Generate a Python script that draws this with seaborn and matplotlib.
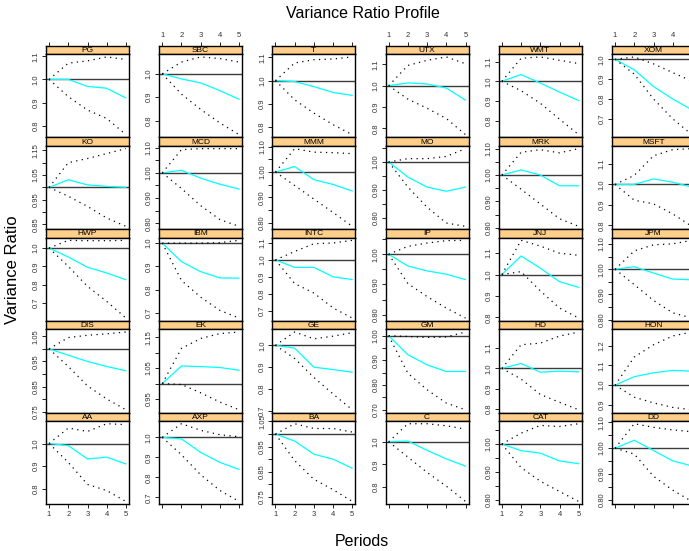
import numpy as np
import pandas as pd
import matplotlib
matplotlib.use("Agg")
import matplotlib.pyplot as plt
import seaborn as sns

# Stocks in panel order (left to right, top to bottom)
stocks = ["PG", "SBC", "T", "UTX", "WMT", "XOM",
          "KO", "MCD", "MMM", "MO", "MRK", "MSFT",
          "HWP", "IBM", "INTC", "IP", "JNJ", "JPM",
          "DIS", "EK", "GE", "GM", "HD", "HON",
          "AA", "AXP", "BA", "C", "CAT", "DD"]
periods = [1, 2, 3, 4, 5]

# Variance ratio per holding period
ratio = {
    "PG": [1, 1.000, 0.970, 0.962, 0.920],
    "SBC": [1, 0.978, 0.961, 0.928, 0.891],
    "T": [1, 0.996, 0.974, 0.949, 0.936],
    "UTX": [1, 1.013, 1.008, 0.989, 0.932],
    "WMT": [1, 1.034, 0.991, 0.945, 0.902],
    "XOM": [1, 0.947, 0.863, 0.800, 0.745],
    "KO": [1, 1.031, 1.010, 1.004, 1.000],
    "MCD": [1, 1.010, 0.979, 0.955, 0.936],
    "MMM": [1, 1.022, 0.970, 0.951, 0.925],
    "MO": [1, 0.946, 0.910, 0.895, 0.910],
    "MRK": [1, 1.019, 1.000, 0.959, 0.959],
    "MSFT": [1, 1.000, 1.027, 1.011, 0.987],
    "HWP": [1, 0.951, 0.895, 0.864, 0.827],
    "IBM": [1, 0.920, 0.877, 0.850, 0.849],
    "INTC": [1, 0.956, 0.956, 0.900, 0.884],
    "IP": [1, 0.961, 0.945, 0.934, 0.916],
    "JNJ": [1, 1.087, 1.030, 0.967, 0.940],
    "JPM": [1, 1.010, 0.985, 0.961, 0.958],
    "DIS": [1, 0.975, 0.950, 0.930, 0.913],
    "EK": [1, 1.057, 1.055, 1.052, 1.043],
    "GE": [1, 0.987, 0.900, 0.889, 0.877],
    "GM": [1, 0.923, 0.882, 0.855, 0.855],
    "HD": [1, 1.024, 0.981, 0.986, 0.983],
    "HON": [1, 1.043, 1.063, 1.075, 1.071],
    "AA": [1, 0.991, 0.932, 0.940, 0.910],
    "AXP": [1, 0.992, 0.925, 0.875, 0.840],
    "BA": [1, 0.972, 0.920, 0.900, 0.864],
    "C": [1, 1.003, 0.962, 0.924, 0.892],
    "CAT": [1, 0.976, 0.967, 0.939, 0.929],
    "DD": [1, 1.031, 0.991, 0.951, 0.931],
}

# Upper confidence bound
upper = {
    "PG": [1, 1.070, 1.080, 1.097, 1.086],
    "SBC": [1, 1.050, 1.072, 1.065, 1.050],
    "T": [1, 1.076, 1.090, 1.093, 1.102],
    "UTX": [1, 1.095, 1.119, 1.135, 1.103],
    "WMT": [1, 1.117, 1.124, 1.107, 1.090],
    "XOM": [1, 1.012, 0.977, 0.933, 0.890],
    "KO": [1, 1.100, 1.117, 1.137, 1.157],
    "MCD": [1, 1.092, 1.096, 1.096, 1.096],
    "MMM": [1, 1.093, 1.079, 1.077, 1.073],
    "MO": [1, 1.012, 1.012, 1.020, 1.048],
    "MRK": [1, 1.086, 1.096, 1.084, 1.100],
    "MSFT": [1, 1.044, 1.140, 1.170, 1.175],
    "HWP": [1, 1.042, 1.040, 1.040, 1.042],
    "IBM": [1, 1.000, 1.000, 1.002, 1.012],
    "INTC": [1, 1.050, 1.096, 1.100, 1.116],
    "IP": [1, 1.026, 1.037, 1.045, 1.046],
    "JNJ": [1, 1.160, 1.133, 1.100, 1.090],
    "JPM": [1, 1.073, 1.097, 1.101, 1.115],
    "DIS": [1, 1.045, 1.054, 1.060, 1.067],
    "EK": [1, 1.114, 1.146, 1.162, 1.167],
    "GE": [1, 1.061, 1.030, 1.042, 1.058],
    "GM": [1, 0.997, 0.993, 0.995, 1.015],
    "HD": [1, 1.117, 1.125, 1.160, 1.180],
    "HON": [1, 1.143, 1.205, 1.250, 1.270],
    "AA": [1, 1.068, 1.053, 1.087, 1.083],
    "AXP": [1, 1.068, 1.035, 1.013, 1.003],
    "BA": [1, 1.041, 1.022, 1.022, 1.008],
    "C": [1, 1.080, 1.080, 1.071, 1.056],
    "CAT": [1, 1.039, 1.067, 1.063, 1.073],
    "DD": [1, 1.095, 1.081, 1.071, 1.064],
}

# Lower confidence bound
lower = {
    "PG": [1, 0.926, 0.868, 0.832, 0.762],
    "SBC": [1, 0.913, 0.848, 0.790, 0.740],
    "T": [1, 0.917, 0.860, 0.810, 0.767],
    "UTX": [1, 0.937, 0.894, 0.846, 0.770],
    "WMT": [1, 0.952, 0.888, 0.807, 0.728],
    "XOM": [1, 0.925, 0.800, 0.700, 0.620],
    "KO": [1, 0.964, 0.923, 0.876, 0.842],
    "MCD": [1, 0.938, 0.870, 0.815, 0.788],
    "MMM": [1, 0.947, 0.893, 0.840, 0.785],
    "MO": [1, 0.910, 0.838, 0.781, 0.769],
    "MRK": [1, 0.946, 0.890, 0.834, 0.805],
    "MSFT": [1, 0.923, 0.905, 0.856, 0.795],
    "HWP": [1, 0.900, 0.791, 0.709, 0.618],
    "IBM": [1, 0.839, 0.767, 0.710, 0.677],
    "INTC": [1, 0.860, 0.804, 0.716, 0.656],
    "IP": [1, 0.903, 0.860, 0.822, 0.789],
    "JNJ": [1, 1.014, 0.924, 0.844, 0.797],
    "JPM": [1, 0.939, 0.876, 0.827, 0.806],
    "DIS": [1, 0.930, 0.853, 0.801, 0.758],
    "EK": [1, 0.997, 0.970, 0.940, 0.915],
    "GE": [1, 0.940, 0.853, 0.777, 0.705],
    "GM": [1, 0.848, 0.781, 0.727, 0.700],
    "HD": [1, 0.947, 0.871, 0.832, 0.795],
    "HON": [1, 0.939, 0.910, 0.887, 0.875],
    "AA": [1, 0.917, 0.820, 0.793, 0.745],
    "AXP": [1, 0.913, 0.813, 0.735, 0.680],
    "BA": [1, 0.894, 0.820, 0.779, 0.732],
    "C": [1, 0.932, 0.864, 0.803, 0.735],
    "CAT": [1, 0.915, 0.866, 0.829, 0.793],
    "DD": [1, 0.977, 0.891, 0.837, 0.793],
}

records = []
for s in stocks:
    for name, src in (("ratio", ratio), ("upper", upper), ("lower", lower)):
        for p, v in zip(periods, src[s]):
            records.append((s, name, p, v))
df = pd.DataFrame(records, columns=["stock", "series", "period", "value"])

sns.set_theme(style="white")
plt.rcParams["font.family"] = ["Liberation Sans", "DejaVu Sans"]

W, H = 689, 551
fig = plt.figure(figsize=(W / 100, H / 100), dpi=100)


def rect(left, top, w, h):
    return [left / W, 1 - (top + h) / H, w / W, h / H]


def pretty_step(lo, hi, n=5):
    """Tick step chosen like R's pretty()."""
    cell = (hi - lo) / n
    h, h5 = 1.5, 0.5 + 1.5 * 1.5
    U = 10 ** np.floor(np.log10(cell))
    unit = U
    if 2 * U - cell < h * (cell - unit):
        unit = 2 * U
        if 5 * U - cell < h5 * (cell - unit):
            unit = 5 * U
            if 10 * U - cell < h * (cell - unit):
                unit = 10 * U
    return unit


palette = {"ratio": "#00FFFF", "upper": "black", "lower": "black"}
dashes = {"ratio": "", "upper": (1, 3.5), "lower": (1, 3.5)}
strip_color = "#FFCF8A"
tick_color = "#333333"

X0, DX, PW = 46, 113.2, 83
Y0, DY, SH = 45.7, 91.7, 8.5
XLIM = (0.84, 5.16)

for i, s in enumerate(stocks):
    r, c = divmod(i, 6)
    left = X0 + c * DX
    top = Y0 + r * DY
    sax = fig.add_axes(rect(left, top, PW, SH))
    pax = fig.add_axes(rect(left, top + SH, PW, DY - SH))

    sub = df[df.stock == s]
    sns.lineplot(data=sub, x="period", y="value", hue="series", style="series",
                 palette=palette, dashes=dashes, estimator=None, errorbar=None,
                 sort=False, legend=False, ax=pax, linewidth=0.9)
    pax.axhline(1.0, color="#3c3c3c", lw=1.0, zorder=1)

    lo, hi = sub.value.min(), sub.value.max()
    pad = 0.035 * (hi - lo)
    lo, hi = lo - pad, hi + pad
    pax.set_xlim(*XLIM)
    pax.set_ylim(lo, hi)

    step = pretty_step(lo, hi)
    ticks = np.arange(np.ceil(lo / step - 1e-9) * step, hi + 1e-9, step)
    ticks = ticks[(ticks >= lo) & (ticks <= hi)]
    dec = 1 if step >= 0.1 - 1e-9 else 2
    labels = []
    for k, t in enumerate(ticks):
        if dec == 2 and k % 2 == 1:
            labels.append("")
        else:
            labels.append(f"{t:.{dec}f}")
    pax.set_yticks(ticks)
    pax.set_yticklabels(labels, rotation=90, va="center", ha="right",
                        fontsize=5.5, color=tick_color)
    pax.tick_params(axis="y", length=3, width=0.6, pad=1.5, color="black",
                    left=True, right=False)
    pax.set_xlabel("")
    pax.set_ylabel("")

    if r == 4:
        pax.set_xticks(periods)
        pax.set_xticklabels([str(p) for p in periods], fontsize=5.5,
                            color=tick_color)
        pax.tick_params(axis="x", length=3, width=0.6, pad=2, color="black",
                        bottom=True, labelbottom=(c % 2 == 0))
    else:
        pax.set_xticks([])

    for sp in pax.spines.values():
        sp.set_color("black")
        sp.set_linewidth(1.0)

    # strip with the stock name
    sax.set_facecolor(strip_color)
    sax.set_xlim(*XLIM)
    sax.set_ylim(0, 1)
    sax.set_yticks([])
    if r == 0:
        sax.xaxis.tick_top()
        sax.set_xticks(periods)
        sax.set_xticklabels([str(p) for p in periods], fontsize=5.5,
                            color=tick_color)
        sax.tick_params(axis="x", length=3, width=0.6, pad=2, color="black",
                        top=True, labeltop=(c % 2 == 1), bottom=False,
                        labelbottom=False)
    else:
        sax.set_xticks([])
    for sp in sax.spines.values():
        sp.set_color("black")
        sp.set_linewidth(1.0)
    sax.text(0.5, 0.45, s, transform=sax.transAxes, ha="center", va="center",
             fontsize=6, color="black")

fig.text(363 / W, 1 - 14 / H, "Variance Ratio Profile", ha="center",
         va="center", fontsize=11.5, color="black")
fig.text(13 / W, 1 - 270 / H, "Variance Ratio", ha="center", va="center",
         rotation=90, fontsize=12, color="black")
fig.text(362 / W, 1 - 542 / H, "Periods", ha="center", va="center",
         fontsize=11.5, color="black")

fig.savefig("out.png", dpi=100)
